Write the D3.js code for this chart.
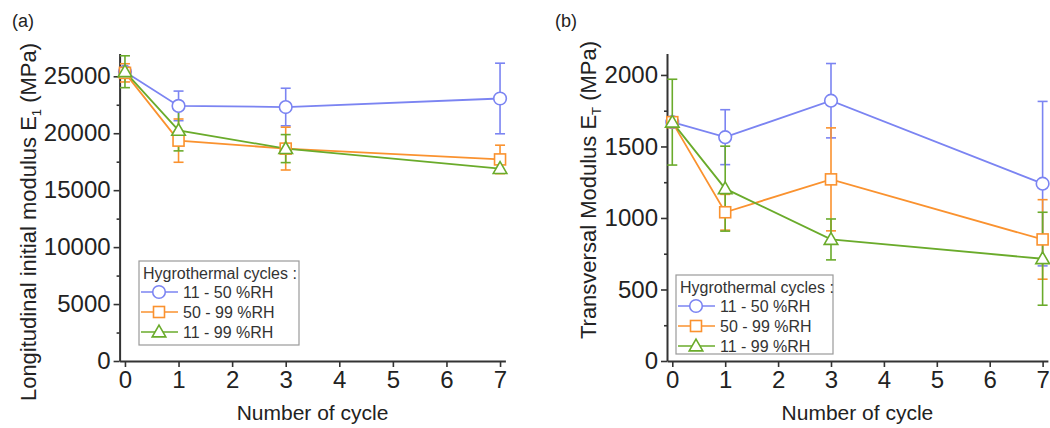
<!DOCTYPE html>
<html><head><meta charset="utf-8">
<script src="https://cdn.jsdelivr.net/npm/d3@7/dist/d3.min.js"></script>
<style>
html,body{margin:0;padding:0;background:#fff;}
svg{display:block;font-family:"Liberation Sans",Arial,sans-serif;}
</style></head>
<body>
<svg id="chart" width="1050" height="428"></svg>
<script>
// ---- data ----
const cycles = [0, 1, 3, 7];
const seriesNames = ["11 - 50 %RH", "50 - 99 %RH", "11 - 99 %RH"];
const legendTitle = "Hygrothermal cycles :";
const xTicks = [0, 1, 2, 3, 4, 5, 6, 7];

// Panel (a): longitudinal initial modulus E1 (MPa)
const e1Blue   = [25400, 22400, 22300, 23050];
const e1BlueErr   = [300, 1300, 1650, 3100];
const e1Orange = [25300, 19350, 18650, 17700];
const e1OrangeErr = [800, 1900, 1880, 1250];
const e1Green  = [25400, 20250, 18650, 16900];
const e1GreenErr  = [1400, 1800, 1230, 400];
const e1Ticks = [0, 5000, 10000, 15000, 20000, 25000];
const e1Minor = [2500, 7500, 12500, 17500, 22500];

// Panel (b): transversal modulus ET (MPa)
const etBlue   = [1670, 1565, 1820, 1240];
const etBlueErr   = [0, 192, 260, 575];
const etOrange = [1670, 1040, 1270, 850];
const etOrangeErr = [0, 125, 360, 278];
const etGreen  = [1670, 1205, 850, 715];
const etGreenErr  = [300, 297, 143, 325];
const etTicks = [0, 500, 1000, 1500, 2000];
const etMinor = [250, 750, 1250, 1750];

const colors = ["#7b84f2", "#fa922f", "#6aab2b"];
const shapes = ["circle", "square", "triangle"];

const svg = d3.select("#chart");

function marker(g, shape, cx, cy, color) {
  if (shape === "circle") {
    g.append("circle").attr("cx", cx).attr("cy", cy).attr("r", 6.3)
      .attr("fill", "#fff").attr("stroke", color).attr("stroke-width", 1.6);
  } else if (shape === "square") {
    g.append("rect").attr("x", cx - 5.5).attr("y", cy - 5.5).attr("width", 11).attr("height", 11)
      .attr("fill", "#fff").attr("stroke", color).attr("stroke-width", 1.6);
  } else {
    const p = d3.symbol().type(d3.symbolTriangle).size(80)();
    g.append("path").attr("d", p).attr("transform", `translate(${cx},${cy + 1})`)
      .attr("fill", "#fff").attr("stroke", color).attr("stroke-width", 1.6);
  }
}

function panel(cfg) {
  const x = d3.scaleLinear().domain([-0.1, 7.1]).range(cfg.xr);
  const y = d3.scaleLinear().domain(cfg.yd).range([361, 53.5]);
  const g = svg.append("g");

  // axes
  const ax = g.append("g").attr("transform", `translate(0,${y(0)})`)
    .call(d3.axisBottom(x).tickValues(xTicks).tickFormat(d3.format("d")).tickSize(6).tickPadding(4).tickSizeOuter(0));
  const ay = g.append("g").attr("transform", `translate(${x(-0.1)},0)`)
    .call(d3.axisLeft(y).tickValues(cfg.ticks).tickFormat(d3.format("d")).tickSize(6).tickPadding(3).tickSizeOuter(0));
  const aym = g.append("g").attr("transform", `translate(${x(-0.1)},0)`)
    .call(d3.axisLeft(y).tickValues(cfg.minor).tickSize(3).tickFormat(""));
  aym.select(".domain").remove();
  [ax, ay, aym].forEach(a => {
    a.selectAll("path.domain").attr("stroke", "#333").attr("stroke-width", 2);
    a.selectAll(".tick line").attr("stroke", "#333").attr("stroke-width", 1.6);
    a.selectAll(".tick text").attr("fill", "#222").style("font-size", "24px")
      .style("font-family", "'Liberation Sans',Arial,sans-serif");
  });

  // series
  cfg.series.forEach((s, i) => {
    const sg = g.append("g");
    const line = d3.line().x((d, j) => x(cycles[j])).y(d => y(d));
    sg.append("path").attr("d", line(s.v)).attr("fill", "none")
      .attr("stroke", colors[i]).attr("stroke-width", 1.8);
    s.v.forEach((v, j) => {
      const e = s.e[j];
      if (e > 0) {
        const cx = x(cycles[j]);
        sg.append("line").attr("x1", cx).attr("x2", cx).attr("y1", y(v - e)).attr("y2", y(v + e))
          .attr("stroke", colors[i]).attr("stroke-width", 1.6);
        [v - e, v + e].forEach(t => sg.append("line").attr("x1", cx - 5).attr("x2", cx + 5)
          .attr("y1", y(t)).attr("y2", y(t)).attr("stroke", colors[i]).attr("stroke-width", 1.6));
      }
    });
  });
  cfg.series.forEach((s, i) => {
    s.v.forEach((v, j) => marker(g, shapes[i], x(cycles[j]), y(v), colors[i]));
  });

  // axis titles
  g.append("text").attr("x", (x(0) + x(7)) / 2).attr("y", 420).attr("text-anchor", "middle")
    .style("font-size", "21px").attr("fill", "#222").text("Number of cycle");
  const yt = g.append("text").attr("transform", `translate(${cfg.ytx},${cfg.yty}) rotate(-90)`)
    .attr("text-anchor", "middle").style("font-size", "22px").attr("fill", "#222");
  yt.append("tspan").text(cfg.ytitle[0]);
  yt.append("tspan").attr("dy", 5).style("font-size", "13px").text(cfg.ytitle[1]);
  yt.append("tspan").attr("dy", -5).text(cfg.ytitle[2]);

  // panel label
  svg.append("text").attr("x", cfg.lab[0]).attr("y", cfg.lab[1]).style("font-size", "18px")
    .attr("fill", "#222").text(cfg.label);

  // legend
  const L = cfg.leg;
  const lg = g.append("g");
  lg.append("rect").attr("x", L.x).attr("y", L.y).attr("width", L.w).attr("height", L.h)
    .attr("fill", "#fff").attr("stroke", "#9a9a9a").attr("stroke-width", 1.2);
  lg.append("text").attr("x", L.x + 4).attr("y", L.y + 18).style("font-size", "16px")
    .attr("fill", "#333").text(legendTitle);
  seriesNames.forEach((n, i) => {
    const cy = L.y + 31 + i * 20;
    lg.append("line").attr("x1", L.x + 2).attr("x2", L.x + 39).attr("y1", cy).attr("y2", cy)
      .attr("stroke", colors[i]).attr("stroke-width", 1.6);
    marker(lg, shapes[i], L.x + 20, cy, colors[i]);
    lg.append("text").attr("x", L.x + 44).attr("y", cy + 6).style("font-size", "16px")
      .attr("fill", "#333").text(n);
  });
}

panel({
  xr: [119.6, 505.4], yd: [0, 27000], ticks: e1Ticks, minor: e1Minor,
  series: [{v: e1Blue, e: e1BlueErr}, {v: e1Orange, e: e1OrangeErr}, {v: e1Green, e: e1GreenErr}],
  ytitle: ["Longitudinal initial modulus E", "1", " (MPa)"], ytx: 36, yty: 222,
  label: "(a)", lab: [12, 27],
  leg: {x: 139, y: 261, w: 160, h: 84}
});
panel({
  xr: [667.0, 1047.9], yd: [0, 2150], ticks: etTicks, minor: etMinor,
  series: [{v: etBlue, e: etBlueErr}, {v: etOrange, e: etOrangeErr}, {v: etGreen, e: etGreenErr}],
  ytitle: ["Transversal Modulus E", "T", " (MPa)"], ytx: 596, yty: 190,
  label: "(b)", lab: [555, 27],
  leg: {x: 676, y: 275, w: 157, h: 79}
});
</script>
</body></html>
